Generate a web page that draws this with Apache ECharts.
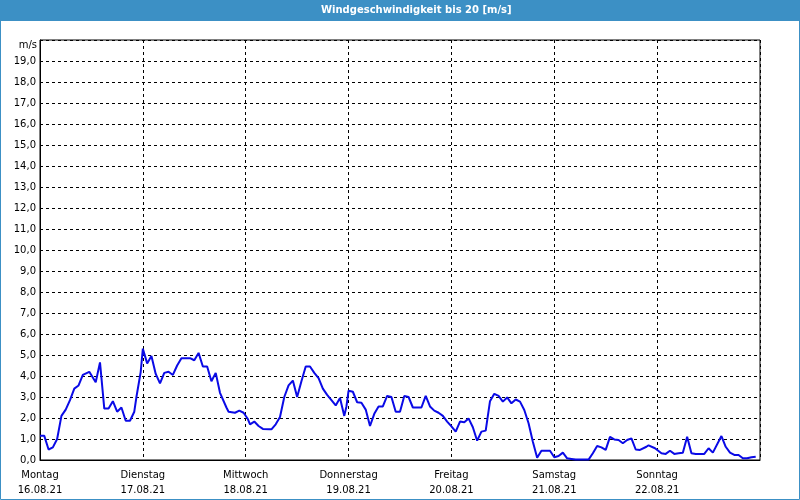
<!DOCTYPE html>
<html>
<head>
<meta charset="utf-8">
<script src="https://cdn.jsdelivr.net/npm/echarts@6/dist/echarts.min.js"></script>
<style>
  html, body { margin: 0; padding: 0; background: #ffffff; }
  #chart { width: 800px; height: 500px; }
</style>
</head>
<body>
<div id="chart"></div>
<script>
// Day labels on the x axis (every 24 hours)
const dayNames = ['Montag', 'Dienstag', 'Mittwoch', 'Donnerstag', 'Freitag', 'Samstag', 'Sonntag'];
const dayDates = ['16.08.21', '17.08.21', '18.08.21', '19.08.21', '20.08.21', '21.08.21', '22.08.21'];

// Time of each reading, in hours since Monday 00:00
const hours = [
  0, 1, 2, 3, 4, 5, 6, 7, 8, 9, 10, 11.5, 13, 14, 15, 16, 17, 18, 19, 20, 21, 22, 22.5, 23.5,
  24, 25, 26, 27, 28, 29, 30, 31, 32, 33, 35, 36, 37, 38, 39, 40, 41, 42, 43.5, 44, 45.5, 46.5, 47.5,
  48.5, 49, 50, 51, 52, 53.5, 54, 55, 56, 57, 58, 59, 60, 61, 62, 63, 64, 65, 66, 67, 68, 69, 70, 71, 71.5,
  72, 73, 74, 75, 76, 77, 78, 79, 80, 81, 82, 83, 84, 85, 86, 87, 89, 90, 91, 92, 93, 94, 95,
  96, 97, 98, 99, 100, 101, 102, 103, 104, 105, 106, 107, 108, 109, 110, 111, 112, 113, 114, 115, 116, 117, 119,
  120, 121, 122, 123, 124, 125, 128, 129, 130, 131, 132, 133, 134, 135, 136, 137, 138, 139, 140, 141.5, 142, 143.5,
  145, 146, 147, 148, 149, 150, 151, 152, 153, 155, 156, 157, 159, 160, 161, 162, 163, 164, 165, 166, 167
];

// Wind speed in m/s at each of those times
const speeds = [
  1.15, 1.15, 0.5, 0.6, 1.0, 2.1, 2.4, 2.85, 3.4, 3.55, 4.05, 4.2, 3.7, 4.65, 2.45, 2.45, 2.8, 2.3, 2.5, 1.87, 1.87, 2.3, 3.0, 4.2,
  5.3, 4.6, 4.95, 4.1, 3.65, 4.15, 4.2, 4.05, 4.5, 4.85, 4.85, 4.75, 5.1, 4.45, 4.45, 3.75, 4.15, 3.2, 2.5, 2.3, 2.25, 2.35, 2.25,
  1.95, 1.7, 1.83, 1.62, 1.48, 1.46, 1.46, 1.7, 2.05, 3.0, 3.55, 3.78, 3.0, 3.75, 4.45, 4.45, 4.15, 3.9, 3.4, 3.1, 2.85, 2.6, 2.95, 2.1, 2.55,
  3.3, 3.25, 2.75, 2.73, 2.4, 1.62, 2.2, 2.55, 2.55, 3.05, 3.0, 2.3, 2.3, 3.05, 3.0, 2.5, 2.5, 3.05, 2.55, 2.35, 2.25, 2.1, 1.83,
  1.6, 1.35, 1.83, 1.8, 1.98, 1.56, 0.92, 1.35, 1.4, 2.8, 3.15, 3.05, 2.78, 2.98, 2.7, 2.88, 2.78, 2.38, 1.75, 0.87, 0.11, 0.44, 0.44,
  0.13, 0.19, 0.35, 0.08, 0.05, 0.02, 0.02, 0.32, 0.67, 0.6, 0.48, 1.1, 0.98, 0.95, 0.8, 0.95, 1.03, 0.5, 0.48, 0.63, 0.7, 0.56,
  0.32, 0.29, 0.44, 0.29, 0.32, 0.35, 1.11, 0.32, 0.29, 0.29, 0.56, 0.35, 1.14, 0.63, 0.35, 0.24, 0.24, 0.08, 0.08, 0.13, 0.16
];

const seriesData = hours.map((h, i) => [h, speeds[i]]);
const FONT = 'DejaVu Sans';

const chart = echarts.init(document.getElementById('chart'), null, { renderer: 'canvas' });
chart.setOption({
  animation: false,
  backgroundColor: '#ffffff',
  title: {
    text: 'Windgeschwindigkeit bis 20 [m/s]',
    left: 321,
    top: 5,
    padding: 0,
    textStyle: { color: '#ffffff', fontFamily: FONT, fontSize: 10, fontWeight: 'bold' }
  },
  graphic: [
    { type: 'rect', z: -1, silent: true, shape: { x: 0, y: 0, width: 800, height: 21 }, style: { fill: '#3c90c5' } },
    { type: 'rect', z: 100, silent: true, shape: { x: 0.5, y: 0.5, width: 799, height: 499 }, style: { fill: 'none', stroke: '#3c90c5', lineWidth: 1 } },
    { type: 'text', silent: true, right: 763, top: 40, style: { text: 'm/s', fill: '#000', font: '10px ' + FONT, align: 'right' } }
  ],
  grid: {
    left: 40, right: 40, top: 40, bottom: 40,
    show: true, borderColor: '#000000', borderWidth: 1, backgroundColor: 'transparent'
  },
  xAxis: {
    type: 'value',
    min: 0, max: 168, interval: 24,
    axisLine: { show: true, lineStyle: { color: '#000', width: 1 } },
    axisTick: { show: false },
    splitLine: { show: true, lineStyle: { color: '#000', type: [3, 3], width: 1 } },
    axisLabel: {
      margin: 8,
      color: '#000',
      fontFamily: FONT,
      fontSize: 10,
      lineHeight: 15,
      showMaxLabel: false,
      formatter: function (v) {
        const i = Math.round(v / 24);
        if (i < 0 || i >= dayNames.length) return '';
        return dayNames[i] + '\n' + dayDates[i];
      }
    }
  },
  yAxis: {
    type: 'value',
    min: 0, max: 20, interval: 1,
    axisLine: { show: true, lineStyle: { color: '#000', width: 1 } },
    axisTick: { show: false },
    splitLine: { show: true, lineStyle: { color: '#000', type: [3, 3], width: 1 } },
    axisLabel: {
      margin: 4,
      color: '#000',
      fontFamily: FONT,
      fontSize: 10,
      formatter: function (v) {
        if (v >= 20) return '';
        return v.toFixed(1).replace('.', ',');
      }
    }
  },
  series: [{
    type: 'line',
    data: seriesData,
    showSymbol: false,
    smooth: false,
    lineStyle: { color: '#0a0ae6', width: 2 },
    itemStyle: { color: '#0a0ae6' },
    z: 5
  }]
});
</script>
</body>
</html>
